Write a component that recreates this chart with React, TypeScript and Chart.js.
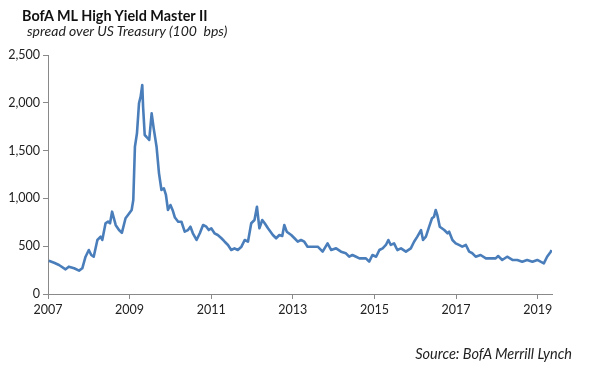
import React, { useEffect, useRef } from "react";
import { Chart, registerables } from "chart.js";

Chart.register(...registerables);

const TITLE = "BofA ML High Yield Master II";
const SUBTITLE = "spread over US Treasury (100  bps)";
const SOURCE = "Source: BofA Merrill Lynch";

const years: number[] = [
  2007.02, 2007.15, 2007.27, 2007.43, 2007.51, 2007.64, 2007.76, 2007.84, 2007.92, 2008.0,
  2008.06, 2008.12, 2008.21, 2008.29, 2008.33, 2008.41, 2008.47, 2008.52, 2008.57, 2008.66,
  2008.74, 2008.81, 2008.9, 2008.96, 2009.05, 2009.09, 2009.13, 2009.18, 2009.23, 2009.27,
  2009.31, 2009.33, 2009.37, 2009.41, 2009.48, 2009.54, 2009.59, 2009.66, 2009.72, 2009.78,
  2009.84, 2009.89, 2009.94, 2010.0, 2010.06, 2010.11, 2010.19, 2010.27, 2010.35, 2010.43,
  2010.49, 2010.55, 2010.64, 2010.72, 2010.8, 2010.88, 2010.94, 2011.0, 2011.08, 2011.16,
  2011.25, 2011.33, 2011.41, 2011.49, 2011.57, 2011.65, 2011.74, 2011.82, 2011.9, 2011.98,
  2012.06, 2012.12, 2012.18, 2012.25, 2012.31, 2012.39, 2012.51, 2012.59, 2012.67, 2012.74,
  2012.79, 2012.85, 2012.96, 2013.04, 2013.12, 2013.2, 2013.28, 2013.36, 2013.49, 2013.61,
  2013.73, 2013.85, 2013.94, 2014.06, 2014.18, 2014.3, 2014.38, 2014.46, 2014.55, 2014.63,
  2014.79, 2014.87, 2014.95, 2015.04, 2015.12, 2015.2, 2015.28, 2015.34, 2015.4, 2015.48,
  2015.56, 2015.65, 2015.77, 2015.89, 2015.97, 2016.05, 2016.14, 2016.19, 2016.26, 2016.34,
  2016.41, 2016.46, 2016.5, 2016.54, 2016.6, 2016.71, 2016.79, 2016.83, 2016.91, 2016.99,
  2017.07, 2017.15, 2017.24, 2017.32, 2017.4, 2017.48, 2017.6, 2017.73, 2017.85, 2017.97,
  2018.03, 2018.13, 2018.25, 2018.38, 2018.5, 2018.62, 2018.74, 2018.87, 2018.99, 2019.07,
  2019.15, 2019.23, 2019.32, 2019.34,
];

const spreads: number[] = [
  348, 327, 303, 258, 286, 269, 244, 269, 390, 460,
  408, 390, 565, 600, 565, 740, 757, 740, 861, 720,
  669, 640, 792, 826, 879, 983, 1541, 1681, 1995, 2064,
  2186, 1959, 1663, 1645, 1611, 1890, 1733, 1541, 1262, 1088,
  1106, 1036, 879, 931, 870, 800, 756, 756, 652, 669,
  704, 635, 565, 635, 722, 704, 669, 687, 635, 617,
  583, 547, 513, 460, 478, 460, 495, 565, 547, 740,
  774, 913, 687, 774, 740, 687, 617, 583, 617, 607,
  722, 652, 617, 583, 547, 565, 547, 495, 495, 495,
  443, 530, 460, 478, 443, 426, 390, 408, 390, 373,
  373, 338, 408, 390, 460, 478, 513, 565, 513, 530,
  460, 478, 443, 478, 547, 600, 669, 565, 600, 704,
  792, 809, 879, 826, 704, 669, 635, 652, 565, 530,
  513, 495, 513, 443, 426, 390, 408, 373, 373, 373,
  397, 356, 390, 356, 356, 338, 356, 338, 356, 338,
  321, 390, 443, 460,
];

const xTicks: number[] = [2007, 2009, 2011, 2013, 2015, 2017, 2019];
const xMin = 2007;
const xMax = 2019.35;
const yMin = 0;
const yMax = 2500;
const yStep = 500;

export default function App() {
  const ref = useRef<HTMLCanvasElement | null>(null);

  useEffect(() => {
    if (!ref.current) return;
    const axisColor = "#898989";
    const font = { family: "Lato, 'Open Sans', sans-serif", size: 12.5 };
    const chart = new Chart(ref.current, {
      type: "line",
      data: {
        datasets: [
          {
            data: years.map((x, i) => ({ x, y: spreads[i] })),
            borderColor: "#4A7EBB",
            borderWidth: 2.6,
            pointRadius: 0,
            tension: 0,
            borderJoinStyle: "round",
            fill: false,
          },
        ],
      },
      options: {
        animation: false,
        responsive: false,
        maintainAspectRatio: false,
        layout: { padding: { left: 0, top: 55, right: 46, bottom: 50 } },
        plugins: { legend: { display: false }, tooltip: { enabled: false }, title: { display: false } },
        scales: {
          x: {
            type: "linear",
            min: xMin,
            max: xMax,
            afterBuildTicks: (scale: any) => {
              scale.ticks = xTicks.map((v) => ({ value: v }));
            },
            afterFit: (scale: any) => {
              scale.height = 26;
            },
            ticks: {
              color: "#222",
              font,
              padding: 3,
              maxRotation: 0,
              autoSkip: false,
              callback: (v: any) => String(v),
            },
            grid: { display: true, drawOnChartArea: false, drawTicks: true, tickLength: 5, color: axisColor },
            border: { display: true, color: axisColor, width: 1 },
          },
          y: {
            min: yMin,
            max: yMax,
            afterFit: (scale: any) => {
              scale.width = 48;
            },
            ticks: {
              stepSize: yStep,
              color: "#222",
              font,
              padding: 3,
              callback: (v: any) => Number(v).toLocaleString("en-US"),
            },
            grid: { display: true, drawOnChartArea: false, drawTicks: true, tickLength: 5, color: axisColor },
            border: { display: true, color: axisColor, width: 1 },
          },
        },
      },
    } as any);
    return () => chart.destroy();
  }, []);

  return (
    <div style={{ position: "fixed", left: 0, top: 0, width: 598, height: 370, background: "#fff", overflow: "hidden" }}>
      <canvas ref={ref} width={598} height={370} style={{ position: "absolute", left: 0, top: 0, width: 598, height: 370 }} />
      <div
        style={{
          position: "absolute",
          left: 22,
          top: 7,
          fontFamily: "Lato, sans-serif",
          fontWeight: 700,
          fontSize: 14.4,
          color: "#111",
          whiteSpace: "pre",
          lineHeight: "18px",
        }}
      >
        {TITLE}
      </div>
      <div
        style={{
          position: "absolute",
          left: 27,
          top: 23,
          fontFamily: "Lato, sans-serif",
          fontStyle: "italic",
          fontSize: 14,
          color: "#222",
          whiteSpace: "pre",
          lineHeight: "16px",
        }}
      >
        {SUBTITLE}
      </div>
      <div
        style={{
          position: "absolute",
          right: 26,
          top: 345,
          fontFamily: "Lato, sans-serif",
          fontStyle: "italic",
          fontSize: 14.5,
          color: "#222",
          whiteSpace: "pre",
          lineHeight: "17px",
        }}
      >
        {SOURCE}
      </div>
    </div>
  );
}
